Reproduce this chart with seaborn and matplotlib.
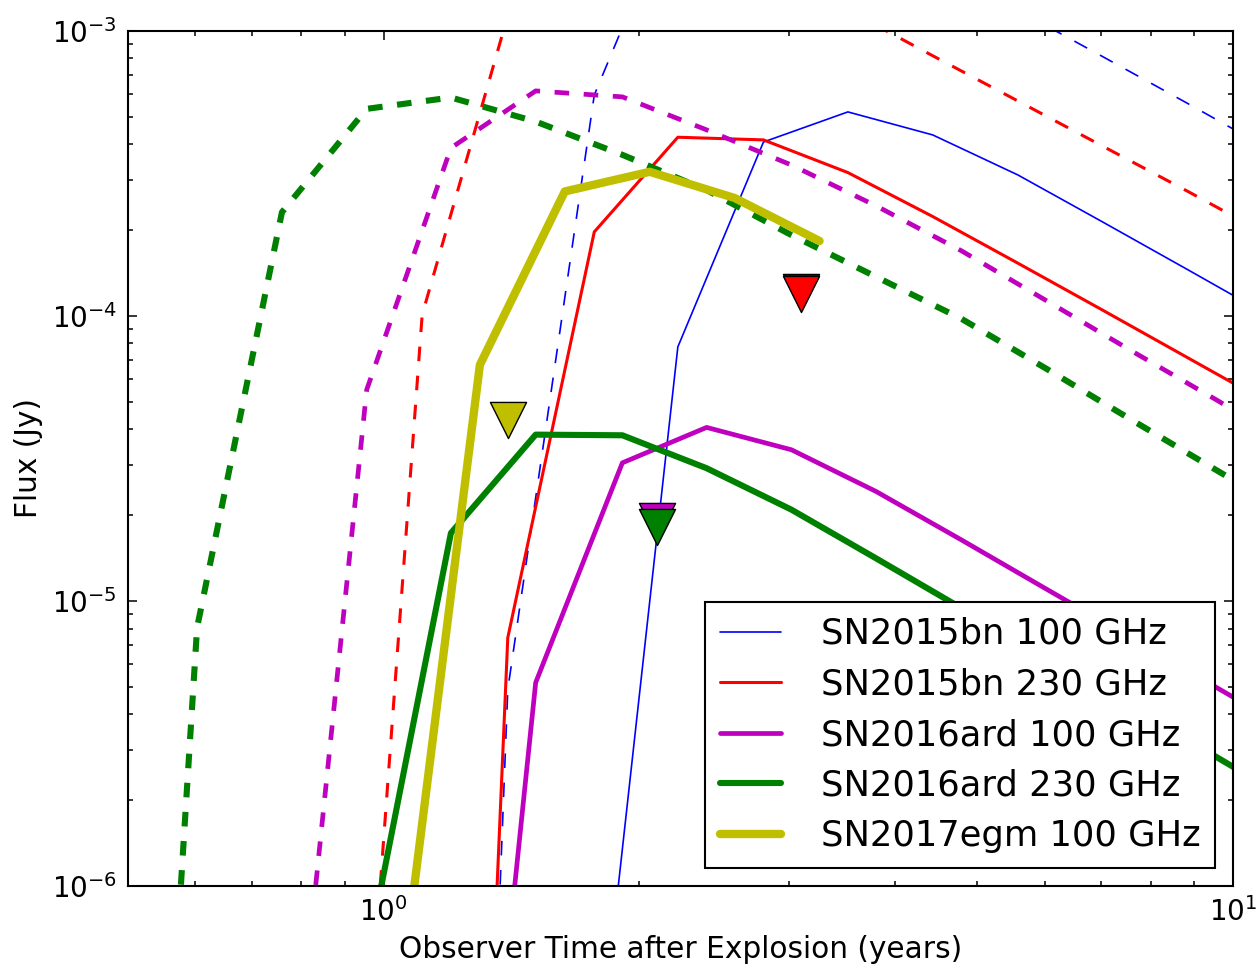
import numpy as np
import pandas as pd
import matplotlib
matplotlib.use("Agg")
import matplotlib.pyplot as plt
import seaborn as sns

# ---------------- data ----------------
# observer-frame times (years)
t_2015bn = [0.885, 1.11, 1.40, 1.77, 2.22, 2.80, 3.52, 4.43, 5.58, 7.03, 8.85, 11.1]
t_2016ard = [0.479, 0.603, 0.759, 0.955, 1.20, 1.51, 1.91, 2.40, 3.02, 3.80, 4.79,
             6.03, 7.59, 9.55, 12.0]
t_2017egm = [1.031, 1.298, 1.634, 2.057, 2.589, 3.26]

# SN2015bn 100 GHz (solid) and its dashed companion
f_2015bn_100 = [1e-12, 1e-11, 1e-9, 1.73e-7, 7.78e-5, 4.07e-4, 5.19e-4, 4.31e-4,
                3.12e-4, 2.13e-4, 1.45e-4, 9.9e-5]
f_2015bn_100_d = [1e-15, 1e-13, 4.89e-6, 5.95e-4, 3.0e-3, 3.5e-3, 2.5e-3, 1.73e-3,
                  1.18e-3, 8.1e-4, 5.55e-4, 3.8e-4]
# SN2015bn 230 GHz
f_2015bn_230 = [1e-15, 8e-13, 7.43e-6, 1.97e-4, 4.23e-4, 4.14e-4, 3.18e-4, 2.23e-4,
                1.53e-4, 1.045e-4, 7.12e-5, 4.88e-5]
f_2015bn_230_d = [1.03e-8, 1.008e-4, 1.13e-3, 2.0e-3, 2.1e-3, 1.6e-3, 1.18e-3,
                  8.17e-4, 5.67e-4, 3.93e-4, 2.73e-4, 1.89e-4]
# SN2016ard 100 GHz
f_2016ard_100 = [1e-13, 1e-12, 1e-11, 1e-10, 6.8e-9, 5.17e-6, 3.05e-5, 4.06e-5,
                 3.39e-5, 2.42e-5, 1.636e-5, 1.10e-5, 7.41e-6, 4.98e-6, 3.36e-6]
f_2016ard_100_d = [1e-12, 1e-10, 7.1e-8, 5.50e-5, 3.88e-4, 6.15e-4, 5.86e-4, 4.49e-4,
                   3.38e-4, 2.43e-4, 1.69e-4, 1.13e-4, 7.54e-5, 5.08e-5, 3.39e-5]
# SN2016ard 230 GHz
f_2016ard_230 = [1e-13, 1e-11, 1e-9, 5.5e-7, 1.73e-5, 3.83e-5, 3.81e-5, 2.92e-5,
                 2.09e-5, 1.41e-5, 9.43e-6, 6.32e-6, 4.23e-6, 2.84e-6, 1.90e-6]
f_2016ard_230_d = [1.48e-10, 8.06e-6, 2.31e-4, 5.32e-4, 5.83e-4, 4.80e-4, 3.67e-4,
                   2.76e-4, 1.92e-4, 1.37e-4, 9.76e-5, 6.52e-5, 4.32e-5, 2.88e-5,
                   1.93e-5]
# SN2017egm 100 GHz
f_2017egm_100 = [2.88e-7, 6.73e-5, 2.73e-4, 3.20e-4, 2.59e-4, 1.83e-4]

# upper limits (drawn as downward triangles)
ul_names = ["SN2015bn 100 GHz", "SN2015bn 230 GHz", "SN2016ard 100 GHz",
            "SN2016ard 230 GHz", "SN2017egm 100 GHz"]
ul_t = [3.10, 3.10, 2.10, 2.10, 1.40]
ul_f = [1.21e-4, 1.19e-4, 1.90e-5, 1.81e-5, 4.30e-5]

labels = ["SN2015bn 100 GHz", "SN2015bn 230 GHz", "SN2016ard 100 GHz",
          "SN2016ard 230 GHz", "SN2017egm 100 GHz"]
colors = ["#0000ff", "#ff0000", "#bf00bf", "#008000", "#bfbf00"]
widths = [1.2, 2.2, 3.4, 4.4, 6.0]

# ---------------- style ----------------
sns.set_style("ticks")
plt.rcParams.update({
    "font.family": ["DejaVu Sans"],
    "mathtext.default": "regular",
    "axes.unicode_minus": False,
    "lines.scale_dashes": False,
    "text.color": "black",
    "axes.labelcolor": "black",
    "xtick.direction": "in",
    "ytick.direction": "in",
    "xtick.top": True,
    "ytick.right": True,
    "xtick.major.size": 6.5,
    "ytick.major.size": 6.5,
    "xtick.minor.size": 3.3,
    "ytick.minor.size": 3.3,
    "xtick.major.width": 1.1,
    "ytick.major.width": 1.1,
    "xtick.minor.width": 1.1,
    "ytick.minor.width": 1.1,
    "axes.linewidth": 1.5,
    "axes.edgecolor": "black",
    "xtick.color": "black",
    "ytick.color": "black",
    "xtick.labelcolor": "black",
    "ytick.labelcolor": "black",
})

fig = plt.figure(figsize=(12.59, 9.71), dpi=100)
ax = fig.add_axes([0.10167, 0.08754, 0.87768, 0.88084])

dash = (0, (10.5, 10.5))

series = [
    (t_2015bn, f_2015bn_100, f_2015bn_100_d),
    (t_2015bn, f_2015bn_230, f_2015bn_230_d),
    (t_2016ard, f_2016ard_100, f_2016ard_100_d),
    (t_2016ard, f_2016ard_230, f_2016ard_230_d),
    (t_2017egm, f_2017egm_100, None),
]

for (t, fs, fd), lab, col, lw in zip(series, labels, colors, widths):
    sns.lineplot(x=t, y=fs, ax=ax, color=col, lw=lw, sort=False,
                 estimator=None, label=lab)
    if fd is not None:
        sns.lineplot(x=t, y=fd, ax=ax, color=col, lw=lw, sort=False,
                     estimator=None, linestyle=dash, label="_nolegend_")

ul_df = pd.DataFrame({"t": ul_t, "f": ul_f, "name": ul_names})
for name, col in zip(labels, colors):
    sub = ul_df[ul_df["name"] == name]
    sns.scatterplot(data=sub, x="t", y="f", ax=ax, marker="v", s=26 ** 2,
                    color=col, edgecolor="black", linewidth=1.0,
                    legend=False, zorder=5)

ax.set_xscale("log")
ax.set_yscale("log")
ax.set_xlim(0.5, 10)
ax.set_ylim(1e-6, 1e-3)

ax.tick_params(axis="both", which="major", labelsize=20, pad=8,
               labelcolor="black")
ax.set_xlabel("Observer Time after Explosion (years)", fontsize=21.3,
              labelpad=6, color="black")
ax.set_ylabel("Flux (Jy)", fontsize=21.3, labelpad=6, color="black")

leg = ax.legend(loc="lower right", fontsize=25.4, frameon=True, fancybox=False,
                framealpha=1, edgecolor="black", handlelength=1.72,
                handletextpad=1.12, borderpad=0.43, labelspacing=0.47,
                borderaxespad=0.5)
leg.get_frame().set_linewidth(1.5)
for txt in leg.get_texts():
    txt.set_color("black")

fig.savefig("out.png", dpi=100)
